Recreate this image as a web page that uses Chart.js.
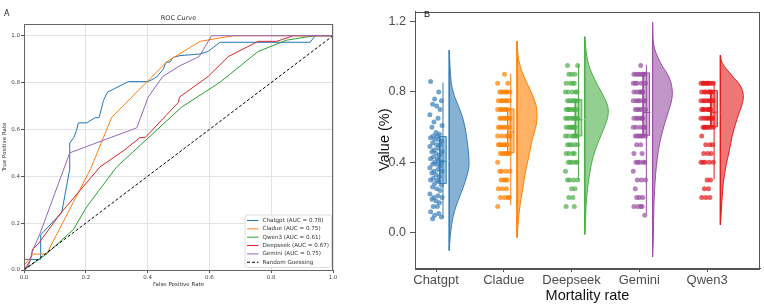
<!DOCTYPE html>
<html>
<head>
<meta charset="utf-8">
<script src="https://cdn.jsdelivr.net/npm/chart.js@4.4.1/dist/chart.umd.min.js"></script>
<style>
  html, body { margin: 0; padding: 0; background: #fff; }
  #wrap { position: relative; width: 764px; height: 305px; }
  #roc { position: absolute; left: 0; top: 0; }
  #rain { position: absolute; left: 345px; top: 0; }
</style>
</head>
<body>
<div id="wrap">
  <canvas id="roc" width="345" height="305"></canvas>
  <canvas id="rain" width="419" height="305"></canvas>
</div>
<script>
// ---------- Panel A: ROC curves ----------
const ROC_TICKS = [0, 0.2, 0.4, 0.6, 0.8, 1.0];
const ROC_NAMES = ['Chatgpt', 'Cladue', 'Qwen3', 'Deepseek', 'Gemini'];
const ROC_AUC = [0.78, 0.75, 0.61, 0.67, 0.75];

const chatgptFpr = [0, 0, 0.054, 0.054, 0.122, 0.148, 0.148, 0.162, 0.170, 0.176, 0.203, 0.230, 0.243, 0.257, 0.270, 0.338, 0.402, 0.429, 0.451, 0.460, 0.472, 0.483, 0.505, 0.570, 0.596, 0.634, 0.926, 0.942, 1.0];
const chatgptTpr = [0, 0.045, 0.045, 0.15, 0.245, 0.43, 0.542, 0.567, 0.596, 0.628, 0.628, 0.650, 0.650, 0.723, 0.759, 0.804, 0.804, 0.823, 0.858, 0.887, 0.887, 0.908, 0.915, 0.922, 0.933, 0.972, 0.972, 1.0, 1.0];

const cladueFpr = [0, 0, 0.03, 0.073, 0.216, 0.284, 0.462, 0.570, 0.678, 1.0];
const cladueTpr = [0, 0.02, 0.068, 0.068, 0.433, 0.652, 0.889, 0.976, 1.0, 1.0];

const qwenFpr = [0, 0.07, 0.16, 0.203, 0.30, 0.51, 0.634, 0.758, 0.85, 0.94, 1.0];
const qwenTpr = [0, 0.065, 0.173, 0.27, 0.44, 0.695, 0.801, 0.933, 0.981, 1.0, 1.0];

const deepseekFpr = [0, 0.02, 0.028, 0.045, 0.122, 0.246, 0.324, 0.375, 0.392, 0.5, 0.503, 0.596, 0.661, 0.758, 0.818, 0.872, 1.0];
const deepseekTpr = [0, 0.04, 0.09, 0.11, 0.248, 0.44, 0.511, 0.565, 0.565, 0.716, 0.738, 0.826, 0.911, 0.976, 0.976, 1.0, 1.0];

const geminiFpr = [0, 0.015, 0.03, 0.052, 0.148, 0.365, 0.402, 0.449, 0.505, 0.567, 0.607, 1.0];
const geminiTpr = [0, 0.02, 0.09, 0.156, 0.5, 0.607, 0.738, 0.826, 0.872, 0.911, 1.0, 1.0];

const ROC_COLORS = ['#1f77b4', '#ff7f0e', '#2ca02c', '#d62728', '#9467bd'];

// ---------- Panel B: raincloud ----------
const MODELS = ['Chatgpt', 'Cladue', 'Deepseek', 'Gemini', 'Qwen3'];
const VALUE_TICKS = [0, 0.4, 0.8, 1.2];
const COLORS = ['#377EB8', '#FF7F00', '#4DAF4A', '#984EA3', '#E41A1C'];

// box statistics
const BOX_Q1 = [0.28, 0.455, 0.55, 0.554, 0.602];
const BOX_MED = [0.407, 0.572, 0.642, 0.683, 0.685];
const BOX_Q3 = [0.547, 0.703, 0.756, 0.908, 0.807];
const WHISK_LO = [0.083, 0.156, 0.30, 0.11, 0.303];
const WHISK_HI = [0.853, 0.903, 0.954, 0.954, 0.86];

// half-violin outlines: value levels (top to bottom) and density
const chatgptViolinV = [1.037, 0.853, 0.78, 0.716, 0.652, 0.56, 0.45, 0.37, 0.266, 0.193, 0.101, -0.009, -0.10];
const chatgptViolinD = [0, 0.2, 0.5, 0.95, 1.35, 1.7, 1.93, 1.95, 1.45, 0.95, 0.42, 0.12, 0];
const cladueViolinV = [1.088, 0.982, 0.89, 0.798, 0.725, 0.67, 0.615, 0.523, 0.431, 0.34, 0.248, 0.156, 0.064, -0.027];
const cladueViolinD = [0, 0.17, 0.67, 1.43, 1.9, 2.0, 1.93, 1.5, 1.17, 0.83, 0.57, 0.3, 0.13, 0];
const deepseekViolinV = [1.114, 0.982, 0.89, 0.798, 0.725, 0.67, 0.615, 0.523, 0.431, 0.34, 0.248, 0.156, 0.064, -0.009];
const deepseekViolinD = [0, 0.27, 0.83, 1.67, 2.27, 2.33, 2.07, 1.4, 0.83, 0.5, 0.27, 0.13, 0.07, 0];
const geminiViolinV = [1.196, 1.064, 0.972, 0.881, 0.807, 0.752, 0.697, 0.605, 0.514, 0.422, 0.33, 0.239, 0.147, 0.055, -0.036, -0.137];
const geminiViolinD = [0, 0.13, 0.73, 1.67, 1.97, 1.9, 1.63, 1.13, 0.73, 0.47, 0.3, 0.2, 0.13, 0.1, 0.07, 0];
const qwenViolinV = [1.009, 0.963, 0.89, 0.835, 0.78, 0.725, 0.67, 0.615, 0.541, 0.468, 0.376, 0.285, 0.193, 0.101, 0.046];
const qwenViolinD = [0, 0.2, 1.2, 2.0, 2.3, 2.15, 1.8, 1.5, 1.15, 0.9, 0.55, 0.3, 0.17, 0.07, 0];

// individual observations
const chatgptValues = [0.86, 0.80, 0.76, 0.75, 0.73, 0.72, 0.70, 0.67, 0.65, 0.63, 0.61, 0.60, 0.57, 0.56, 0.55, 0.55, 0.54, 0.53, 0.53, 0.52, 0.51, 0.50, 0.50, 0.49, 0.48, 0.47, 0.46, 0.46, 0.45, 0.44, 0.43, 0.42, 0.42, 0.41, 0.40, 0.40, 0.39, 0.39, 0.38, 0.37, 0.36, 0.35, 0.35, 0.34, 0.33, 0.32, 0.31, 0.30, 0.30, 0.29, 0.28, 0.27, 0.26, 0.25, 0.24, 0.22, 0.21, 0.20, 0.20, 0.19, 0.18, 0.17, 0.15, 0.15, 0.12, 0.11, 0.10, 0.09, 0.08];
const cladueLevels = [0.9, 0.85, 0.8, 0.75, 0.7, 0.65, 0.6, 0.55, 0.5, 0.45, 0.4, 0.35, 0.3, 0.25, 0.2, 0.15];
const cladueCounts = [1, 2, 6, 6, 6, 6, 6, 5, 6, 6, 1, 4, 4, 3, 4, 1];
const deepseekLevels = [0.95, 0.9, 0.85, 0.8, 0.75, 0.7, 0.65, 0.6, 0.55, 0.5, 0.45, 0.4, 0.35, 0.3, 0.25, 0.2, 0.15];
const deepseekCounts = [2, 3, 4, 5, 6, 7, 7, 7, 6, 5, 4, 5, 1, 4, 2, 2, 2];
const geminiLevels = [0.95, 0.9, 0.85, 0.8, 0.75, 0.7, 0.65, 0.6, 0.55, 0.5, 0.45, 0.4, 0.35, 0.3, 0.25, 0.2, 0.15, 0.1];
const geminiCounts = [1, 7, 5, 6, 6, 5, 6, 5, 6, 2, 2, 5, 1, 3, 1, 3, 4, 1];
const qwenLevels = [0.85, 0.8, 0.75, 0.7, 0.65, 0.6, 0.55, 0.5, 0.45, 0.4, 0.3, 0.25, 0.2];
const qwenCounts = [9, 7, 7, 7, 7, 7, 1, 3, 3, 5, 2, 2, 3];

// layout constants (category units)
const JITTER = [-0.08, 0.04, -0.02, 0.08, -0.05, 0.01, 0.06, -0.09, 0.03, -0.03, 0.09, -0.06, 0.0, 0.05, -0.04, 0.02];
const BOX_OFFSET = 0.103;
const BOX_HALF = 0.048;
const VIOLIN_OFFSET = 0.195;
const DENSITY_SCALE = 0.1475;

function rgba(hex, a) {
  const n = parseInt(hex.slice(1), 16);
  return `rgba(${(n >> 16) & 255},${(n >> 8) & 255},${n & 255},${a})`;
}
function expand(levels, counts) {
  return levels.flatMap((v, k) => Array(counts[k]).fill(v));
}

// frame around the plotting area
const framePlugin = {
  id: 'frame',
  afterDraw(chart, args, opts) {
    const {ctx, chartArea: a} = chart;
    ctx.save();
    ctx.strokeStyle = opts.color || '#555';
    ctx.lineWidth = 1;
    ctx.strokeRect(Math.round(a.left) + 0.5, Math.round(a.top) + 0.5, Math.round(a.right - a.left) - 1, Math.round(a.bottom - a.top));
    ctx.restore();
  }
};

// ---------- draw panel A ----------
const rocFpr = [chatgptFpr, cladueFpr, qwenFpr, deepseekFpr, geminiFpr];
const rocTpr = [chatgptTpr, cladueTpr, qwenTpr, deepseekTpr, geminiTpr];

const rocSets = ROC_NAMES.map((name, i) => ({
  label: `${name} (AUC = ${ROC_AUC[i].toFixed(2)})`,
  data: rocFpr[i].map((x, k) => ({x: x, y: rocTpr[i][k]})),
  borderColor: ROC_COLORS[i],
  backgroundColor: ROC_COLORS[i],
  showLine: true,
  pointRadius: 0,
  borderWidth: 1,
  tension: 0,
  order: 10 - i
}));
rocSets.push({
  label: 'Random Guessing',
  data: [{x: 0, y: 0}, {x: 1, y: 1}],
  borderColor: '#000',
  backgroundColor: '#000',
  borderDash: [3, 2],
  showLine: true,
  pointRadius: 0,
  borderWidth: 1,
  order: 1
});

const rocText = {
  id: 'rocText',
  afterDraw(chart) {
    const {ctx, chartArea: a} = chart;
    ctx.save();
    ctx.fillStyle = '#222';
    ctx.font = '8px "DejaVu Sans"';
    ctx.textBaseline = 'middle';
    ctx.fillText('A', 4, 14);
    ctx.font = '6.5px "DejaVu Sans"';
    ctx.textAlign = 'center';
    ctx.fillStyle = '#333';
    ctx.fillText('ROC Curve', (a.left + a.right) / 2, 18);

    // legend box in the lower right corner
    const bx = a.right - 88, by = a.bottom - 55, bw = 86.5, bh = 52.5;
    ctx.beginPath();
    ctx.roundRect(bx, by, bw, bh, 2);
    ctx.fillStyle = 'rgba(255,255,255,0.85)';
    ctx.fill();
    ctx.strokeStyle = '#d6d6d6';
    ctx.lineWidth = 0.8;
    ctx.stroke();
    ctx.textAlign = 'left';
    ctx.font = '5.6px "DejaVu Sans"';
    chart.data.datasets.forEach((ds, k) => {
      const y = by + 5.5 + k * 8.35;
      ctx.strokeStyle = ds.borderColor;
      ctx.lineWidth = 1;
      ctx.setLineDash(ds.borderDash || []);
      ctx.beginPath();
      ctx.moveTo(bx + 2, y);
      ctx.lineTo(bx + 13.5, y);
      ctx.stroke();
      ctx.setLineDash([]);
      ctx.fillStyle = '#333';
      ctx.fillText(ds.label, bx + 17.5, y);
    });
    ctx.restore();
  }
};

const tickFontA = {family: 'DejaVu Sans', size: 5.5};

new Chart(document.getElementById('roc'), {
  type: 'scatter',
  data: {datasets: rocSets},
  options: {
    responsive: false,
    animation: false,
    devicePixelRatio: 1,
    layout: {padding: {top: 24, right: 12, left: 0, bottom: 0}},
    plugins: {legend: {display: false}, tooltip: {enabled: false}, frame: {color: '#666'}},
    scales: {
      x: {
        type: 'linear', min: 0, max: 1,
        afterBuildTicks: s => { s.ticks = ROC_TICKS.map(v => ({value: v})); },
        afterFit: s => { s.height = 35; },
        ticks: {font: tickFontA, color: '#444', padding: 1, maxRotation: 0, autoSkip: false, callback: v => v.toFixed(1)},
        grid: {color: '#e2e2e2', tickColor: '#555', tickLength: 3},
        border: {color: '#666'},
        title: {display: true, text: 'False Positive Rate', font: tickFontA, color: '#333', padding: {top: 0, bottom: 17.5}}
      },
      y: {
        type: 'linear', min: 0, max: 1.05,
        afterBuildTicks: s => { s.ticks = ROC_TICKS.map(v => ({value: v})); },
        afterFit: s => { s.width = 24; },
        ticks: {font: tickFontA, color: '#444', padding: 1, autoSkip: false, callback: v => v.toFixed(1)},
        grid: {color: '#e2e2e2', tickColor: '#555', tickLength: 3},
        border: {color: '#666'},
        title: {display: true, text: 'True Positive Rate', font: tickFontA, color: '#333', padding: {top: 1.5, bottom: 0}}
      }
    }
  },
  plugins: [framePlugin, rocText]
});

// ---------- draw panel B ----------
const dotValues = [
  chatgptValues,
  expand(cladueLevels, cladueCounts),
  expand(deepseekLevels, deepseekCounts),
  expand(geminiLevels, geminiCounts),
  expand(qwenLevels, qwenCounts)
];
const violinV = [chatgptViolinV, cladueViolinV, deepseekViolinV, geminiViolinV, qwenViolinV];
const violinD = [chatgptViolinD, cladueViolinD, deepseekViolinD, geminiViolinD, qwenViolinD];

const rainSets = [];
const lineBase = {showLine: true, pointRadius: 0, borderWidth: 1, tension: 0};

MODELS.forEach((name, i) => {
  const col = COLORS[i];
  const base = i + VIOLIN_OFFSET;
  const bc = i + BOX_OFFSET;
  const levels = violinV[i];

  // half violin
  rainSets.push(Object.assign({}, lineBase, {
    data: levels.map((v, k) => ({x: base + violinD[i][k] * DENSITY_SCALE, y: v})),
    borderColor: col, backgroundColor: rgba(col, 0.6), fill: 'shape', tension: 0.35, order: 6
  }));
  rainSets.push(Object.assign({}, lineBase, {
    data: [{x: base, y: levels[0]}, {x: base, y: levels[levels.length - 1]}],
    borderColor: col, order: 6
  }));
  // whisker
  rainSets.push(Object.assign({}, lineBase, {
    data: [{x: bc, y: WHISK_LO[i]}, {x: bc, y: WHISK_HI[i]}],
    borderColor: col, order: 5
  }));
  // jittered observations
  rainSets.push({
    data: dotValues[i].map((v, k) => ({x: i + JITTER[(k + i * 5) % JITTER.length], y: v})),
    pointRadius: 2.5, pointBorderWidth: 0, borderWidth: 0,
    backgroundColor: rgba(col, 0.7), showLine: false, order: 4
  });
  // box
  rainSets.push(Object.assign({}, lineBase, {
    data: [
      {x: bc - BOX_HALF, y: BOX_Q1[i]}, {x: bc + BOX_HALF, y: BOX_Q1[i]},
      {x: bc + BOX_HALF, y: BOX_Q3[i]}, {x: bc - BOX_HALF, y: BOX_Q3[i]},
      {x: bc - BOX_HALF, y: BOX_Q1[i]}
    ],
    borderColor: col, backgroundColor: rgba(col, 0.45), fill: 'shape', order: 3
  }));
  // median
  rainSets.push(Object.assign({}, lineBase, {
    data: [{x: bc - BOX_HALF, y: BOX_MED[i]}, {x: bc + BOX_HALF, y: BOX_MED[i]}],
    borderColor: col, order: 2
  }));
  rainSets.push(Object.assign({}, lineBase, {
    data: [{x: bc + BOX_HALF, y: BOX_MED[i]}, {x: base, y: BOX_MED[i]}],
    borderColor: '#c8c8c8', order: 2
  }));
});

const rainText = {
  id: 'rainText',
  afterDraw(chart) {
    const {ctx, chartArea: a} = chart;
    ctx.save();
    ctx.fillStyle = '#111';
    ctx.font = '9px "Liberation Sans"';
    ctx.textBaseline = 'middle';
    ctx.fillText('B', a.left + 9, 15);
    ctx.restore();
  }
};

const tickFontB = {family: 'Liberation Sans', size: 13};
const titleFontB = {family: 'Liberation Sans', size: 14.5};

new Chart(document.getElementById('rain'), {
  type: 'scatter',
  data: {datasets: rainSets},
  options: {
    responsive: false,
    animation: false,
    devicePixelRatio: 1,
    layout: {padding: {top: 3, right: 4, left: 0, bottom: 0}},
    plugins: {legend: {display: false}, tooltip: {enabled: false}, frame: {color: '#555'}},
    scales: {
      x: {
        type: 'linear', min: -0.31, max: 4.78,
        afterBuildTicks: s => { s.ticks = MODELS.map((m, i) => ({value: i})); },
        afterFit: s => { s.height = 37; },
        ticks: {font: tickFontB, color: '#4d4d4d', padding: 1, maxRotation: 0, autoSkip: false, callback: v => MODELS[v]},
        grid: {drawOnChartArea: false, tickColor: '#555', tickLength: 4},
        border: {color: '#555'},
        title: {display: true, text: 'Mortality rate', font: titleFontB, color: '#111', padding: {top: 0, bottom: 0.5}}
      },
      y: {
        type: 'linear', min: -0.2, max: 1.257,
        afterBuildTicks: s => { s.ticks = VALUE_TICKS.map(v => ({value: v})); },
        afterFit: s => { s.width = 70; },
        ticks: {font: {family: 'Liberation Sans', size: 12.5}, color: '#4d4d4d', padding: 4, autoSkip: false, callback: v => v.toFixed(1)},
        grid: {drawOnChartArea: false, tickColor: '#555', tickLength: 5},
        border: {color: '#555'},
        title: {display: true, text: 'Value (%)', font: titleFontB, color: '#111', padding: {top: 31, bottom: 0}}
      }
    }
  },
  plugins: [framePlugin, rainText]
});
</script>
</body>
</html>
